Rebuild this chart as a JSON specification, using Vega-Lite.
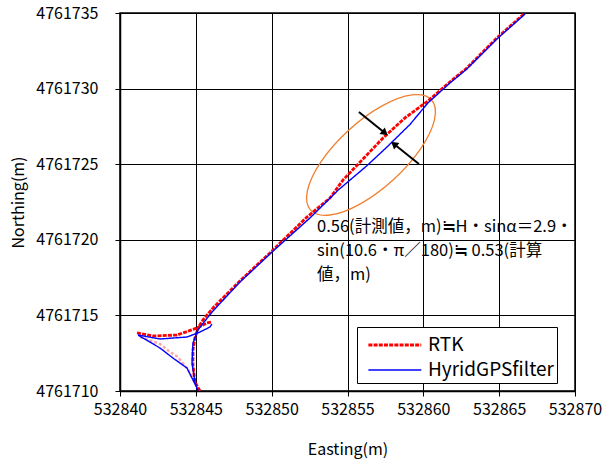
{
  "$schema": "https://vega.github.io/schema/vega-lite/v6.json",
  "width": 455,
  "height": 378,
  "autosize": {"type": "none"},
  "padding": {"left": 120, "top": 13, "right": 29, "bottom": 68},
  "background": "white",
  "datasets": {
    "traj": [
      {"series": "RTK", "seg": "rm", "i": 1, "E": 532845.27, "N": 4761710.00},
      {"series": "RTK", "seg": "rm", "i": 2, "E": 532844.94, "N": 4761710.60},
      {"series": "RTK", "seg": "rm", "i": 3, "E": 532844.81, "N": 4761711.72},
      {"series": "RTK", "seg": "rm", "i": 4, "E": 532844.81, "N": 4761712.71},
      {"series": "RTK", "seg": "rm", "i": 5, "E": 532844.94, "N": 4761713.51},
      {"series": "RTK", "seg": "rm", "i": 6, "E": 532845.14, "N": 4761714.17},
      {"series": "RTK", "seg": "rm", "i": 7, "E": 532845.47, "N": 4761714.70},
      {"series": "RTK", "seg": "rm", "i": 8, "E": 532846.13, "N": 4761715.49},
      {"series": "RTK", "seg": "rm", "i": 9, "E": 532847.91, "N": 4761717.28},
      {"series": "RTK", "seg": "rm", "i": 10, "E": 532850.02, "N": 4761719.26},
      {"series": "RTK", "seg": "rm", "i": 11, "E": 532852.33, "N": 4761721.51},
      {"series": "RTK", "seg": "rm", "i": 12, "E": 532853.84, "N": 4761722.76},
      {"series": "RTK", "seg": "rm", "i": 13, "E": 532854.70, "N": 4761723.95},
      {"series": "RTK", "seg": "rm", "i": 14, "E": 532856.15, "N": 4761725.48},
      {"series": "RTK", "seg": "rm", "i": 15, "E": 532857.34, "N": 4761726.73},
      {"series": "RTK", "seg": "rm", "i": 16, "E": 532858.79, "N": 4761728.06},
      {"series": "RTK", "seg": "rm", "i": 17, "E": 532860.30, "N": 4761729.18},
      {"series": "RTK", "seg": "rm", "i": 18, "E": 532861.75, "N": 4761730.44},
      {"series": "RTK", "seg": "rm", "i": 19, "E": 532862.87, "N": 4761731.36},
      {"series": "RTK", "seg": "rm", "i": 20, "E": 532864.85, "N": 4761733.35},
      {"series": "RTK", "seg": "rm", "i": 21, "E": 532866.70, "N": 4761735.00},
      {"series": "RTK", "seg": "rl", "i": 1, "E": 532841.12, "N": 4761713.84},
      {"series": "RTK", "seg": "rl", "i": 2, "E": 532842.18, "N": 4761713.64},
      {"series": "RTK", "seg": "rl", "i": 3, "E": 532843.76, "N": 4761713.70},
      {"series": "RTK", "seg": "rl", "i": 4, "E": 532845.08, "N": 4761714.17},
      {"series": "RTK", "seg": "rl", "i": 5, "E": 532845.74, "N": 4761714.50},
      {"series": "RTK", "seg": "rl", "i": 6, "E": 532846.00, "N": 4761714.56},
      {"series": "RTK", "seg": "rf", "i": 1, "E": 532841.32, "N": 4761713.57},
      {"series": "RTK", "seg": "rf", "i": 2, "E": 532842.64, "N": 4761713.11},
      {"series": "RTK", "seg": "rf", "i": 3, "E": 532843.30, "N": 4761712.58},
      {"series": "RTK", "seg": "rf", "i": 4, "E": 532843.82, "N": 4761712.25},
      {"series": "RTK", "seg": "rf", "i": 5, "E": 532844.48, "N": 4761711.39},
      {"series": "RTK", "seg": "rf", "i": 6, "E": 532844.88, "N": 4761710.66},
      {"series": "RTK", "seg": "rf", "i": 7, "E": 532845.21, "N": 4761710.07},
      {"series": "HyridGPSfilter", "seg": "bm", "i": 1, "E": 532845.14, "N": 4761710.00},
      {"series": "HyridGPSfilter", "seg": "bm", "i": 2, "E": 532844.94, "N": 4761710.60},
      {"series": "HyridGPSfilter", "seg": "bm", "i": 3, "E": 532844.75, "N": 4761711.85},
      {"series": "HyridGPSfilter", "seg": "bm", "i": 4, "E": 532844.81, "N": 4761713.17},
      {"series": "HyridGPSfilter", "seg": "bm", "i": 5, "E": 532845.14, "N": 4761714.03},
      {"series": "HyridGPSfilter", "seg": "bm", "i": 6, "E": 532845.54, "N": 4761714.56},
      {"series": "HyridGPSfilter", "seg": "bm", "i": 7, "E": 532846.13, "N": 4761715.29},
      {"series": "HyridGPSfilter", "seg": "bm", "i": 8, "E": 532847.91, "N": 4761717.21},
      {"series": "HyridGPSfilter", "seg": "bm", "i": 9, "E": 532850.02, "N": 4761719.19},
      {"series": "HyridGPSfilter", "seg": "bm", "i": 10, "E": 532852.52, "N": 4761721.44},
      {"series": "HyridGPSfilter", "seg": "bm", "i": 11, "E": 532854.40, "N": 4761723.30},
      {"series": "HyridGPSfilter", "seg": "bm", "i": 12, "E": 532856.28, "N": 4761724.90},
      {"series": "HyridGPSfilter", "seg": "bm", "i": 13, "E": 532857.67, "N": 4761726.20},
      {"series": "HyridGPSfilter", "seg": "bm", "i": 14, "E": 532859.12, "N": 4761727.63},
      {"series": "HyridGPSfilter", "seg": "bm", "i": 15, "E": 532860.30, "N": 4761729.05},
      {"series": "HyridGPSfilter", "seg": "bm", "i": 16, "E": 532861.75, "N": 4761730.37},
      {"series": "HyridGPSfilter", "seg": "bm", "i": 17, "E": 532862.87, "N": 4761731.30},
      {"series": "HyridGPSfilter", "seg": "bm", "i": 18, "E": 532864.85, "N": 4761733.28},
      {"series": "HyridGPSfilter", "seg": "bm", "i": 19, "E": 532866.70, "N": 4761734.93},
      {"series": "HyridGPSfilter", "seg": "bl", "i": 1, "E": 532841.19, "N": 4761713.70},
      {"series": "HyridGPSfilter", "seg": "bl", "i": 2, "E": 532842.64, "N": 4761713.44},
      {"series": "HyridGPSfilter", "seg": "bl", "i": 3, "E": 532844.42, "N": 4761713.57},
      {"series": "HyridGPSfilter", "seg": "bl", "i": 4, "E": 532845.27, "N": 4761713.90},
      {"series": "HyridGPSfilter", "seg": "bl", "i": 5, "E": 532845.93, "N": 4761714.23},
      {"series": "HyridGPSfilter", "seg": "bl", "i": 6, "E": 532846.06, "N": 4761714.43},
      {"series": "HyridGPSfilter", "seg": "bb", "i": 1, "E": 532841.19, "N": 4761713.70},
      {"series": "HyridGPSfilter", "seg": "bb", "i": 2, "E": 532842.64, "N": 4761712.84},
      {"series": "HyridGPSfilter", "seg": "bb", "i": 3, "E": 532843.49, "N": 4761712.18},
      {"series": "HyridGPSfilter", "seg": "bb", "i": 4, "E": 532844.42, "N": 4761711.52},
      {"series": "HyridGPSfilter", "seg": "bb", "i": 5, "E": 532844.81, "N": 4761710.73},
      {"series": "HyridGPSfilter", "seg": "bb", "i": 6, "E": 532845.14, "N": 4761710.07}
    ],
    "ellipse": [
      {"i": 0, "E": 532860.53, "N": 4761729.26},
      {"i": 1, "E": 532859.25, "N": 4761729.58},
      {"i": 2, "E": 532857.25, "N": 4761728.84},
      {"i": 3, "E": 532855.06, "N": 4761727.23},
      {"i": 4, "E": 532853.27, "N": 4761725.19},
      {"i": 5, "E": 532852.36, "N": 4761723.26},
      {"i": 6, "E": 532852.57, "N": 4761721.96},
      {"i": 7, "E": 532853.85, "N": 4761721.64},
      {"i": 8, "E": 532855.85, "N": 4761722.38},
      {"i": 9, "E": 532858.04, "N": 4761723.99},
      {"i": 10, "E": 532859.83, "N": 4761726.03},
      {"i": 11, "E": 532860.74, "N": 4761727.96}
    ],
    "arrows": [
      {"id": "a1", "E": 532855.75, "N": 4761728.45, "E2": 532857.47, "N2": 4761727.06},
      {"id": "a2", "E": 532859.71, "N": 4761725.01, "E2": 532858.06, "N2": 4761726.34}
    ],
    "note": [
      {"E": 532852.99, "N": 4761721.38, "txt": ["0.56(計測値，m)≒H・sinα＝2.9・", "sin(10.6・π／180)≒ 0.53(計算", "値，m)"]}
    ]
  },
  "encoding": {
    "x": {
      "field": "E", "type": "quantitative",
      "scale": {"domain": [532840, 532870], "nice": false, "zero": false},
      "axis": {"values": [532840, 532845, 532850, 532855, 532860, 532865, 532870], "format": "d", "title": "Easting(m)"}
    },
    "y": {
      "field": "N", "type": "quantitative",
      "scale": {"domain": [4761710, 4761735], "nice": false, "zero": false},
      "axis": {"values": [4761710, 4761715, 4761720, 4761725, 4761730, 4761735], "format": "d", "title": "Northing(m)"}
    }
  },
  "layer": [
    {
      "data": {"name": "ellipse"},
      "mark": {"type": "line", "interpolate": "cardinal-closed", "color": "#F08030", "strokeWidth": 1.3},
      "encoding": {"order": {"field": "i", "type": "quantitative"}}
    },
    {
      "data": {"name": "traj"},
      "transform": [{"filter": "datum.seg === 'rf'"}],
      "mark": {"type": "line", "clip": true, "opacity": 0.35, "color": "#FF0000", "strokeWidth": 2.5, "strokeDash": [3, 2]},
      "encoding": {
        "detail": {"field": "seg"},
        "order": {"field": "i", "type": "quantitative"}
      }
    },
    {
      "data": {"name": "traj"},
      "transform": [{"filter": "datum.series === 'RTK' && datum.seg !== 'rf'"}],
      "mark": {"type": "line", "clip": true},
      "encoding": {
        "color": {"field": "series", "type": "nominal", "scale": {"domain": ["RTK", "HyridGPSfilter"], "range": ["#FF0000", "#0000FF"]}, "title": null},
        "strokeDash": {"field": "series", "type": "nominal", "scale": {"domain": ["RTK", "HyridGPSfilter"], "range": [[4, 1.2], [1, 0]]}, "title": null},
        "strokeWidth": {"field": "series", "type": "nominal", "scale": {"domain": ["RTK", "HyridGPSfilter"], "range": [2.8, 1.4]}, "title": null},
        "detail": {"field": "seg"},
        "order": {"field": "i", "type": "quantitative"}
      }
    },
    {
      "data": {"name": "traj"},
      "transform": [{"filter": "datum.series === 'HyridGPSfilter'"}],
      "mark": {"type": "line", "clip": true},
      "encoding": {
        "color": {"field": "series", "type": "nominal", "title": null},
        "strokeDash": {"field": "series", "type": "nominal", "title": null},
        "strokeWidth": {"field": "series", "type": "nominal", "title": null},
        "detail": {"field": "seg"},
        "order": {"field": "i", "type": "quantitative"}
      }
    },
    {
      "data": {"name": "arrows"},
      "mark": {"type": "rule", "color": "black", "strokeWidth": 2},
      "encoding": {
        "x2": {"field": "E2"},
        "y2": {"field": "N2"}
      }
    },
    {
      "data": {"name": "arrows"},
      "transform": [{"filter": "datum.id === 'a1'"}],
      "mark": {"type": "point", "shape": "triangle-right", "filled": true, "color": "black", "size": 70, "angle": 39, "opacity": 1},
      "encoding": {"x": {"field": "E2", "type": "quantitative"}, "y": {"field": "N2", "type": "quantitative"}}
    },
    {
      "data": {"name": "arrows"},
      "transform": [{"filter": "datum.id === 'a2'"}],
      "mark": {"type": "point", "shape": "triangle-right", "filled": true, "color": "black", "size": 70, "angle": 219, "opacity": 1},
      "encoding": {"x": {"field": "E2", "type": "quantitative"}, "y": {"field": "N2", "type": "quantitative"}}
    },
    {
      "data": {"name": "note"},
      "mark": {"type": "text", "align": "left", "baseline": "top", "font": "Noto Sans CJK JP", "fontSize": 16.5, "lineHeight": 24, "color": "black"},
      "encoding": {"text": {"field": "txt"}}
    }
  ],
  "config": {
    "view": {"stroke": "black", "strokeWidth": 1.5},
    "font": "Noto Sans CJK JP",
    "axis": {
      "grid": true, "gridColor": "black", "gridOpacity": 1, "gridWidth": 1,
      "domainColor": "black", "domainWidth": 1.5,
      "tickColor": "black", "tickSize": 5, "tickWidth": 1,
      "labelColor": "black", "labelFont": "Noto Sans CJK JP", "labelFontSize": 16,
      "titleColor": "black", "titleFont": "Noto Sans CJK JP", "titleFontSize": 16, "titleFontWeight": "normal"
    },
    "axisX": {"labelPadding": 5, "titlePadding": 24, "labelFlush": false},
    "axisY": {"labelPadding": 17, "titlePadding": 9, "labelFlush": false},
    "legend": {
      "orient": "none", "legendX": 237, "legendY": 314,
      "strokeColor": "black", "fillColor": "white", "padding": 3,
      "labelFont": "Noto Sans CJK JP", "labelFontSize": 19, "labelColor": "black", "labelLimit": 300,
      "symbolType": "M-0.5,0H3.5", "symbolSize": 700, "rowPadding": 1, "labelOffset": 38
    }
  }
}
